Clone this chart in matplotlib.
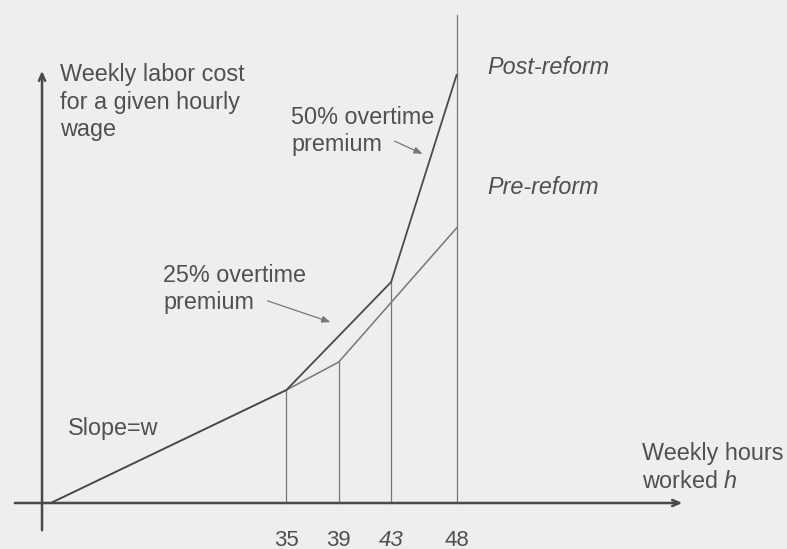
"""
周工时与劳动成本示意图（加班溢价改革前后）
"""

import numpy as np
import matplotlib
matplotlib.use("Agg")
import matplotlib.pyplot as plt

plt.rcParams["font.family"] = ["Liberation Sans", "DejaVu Sans"]
plt.rcParams["mathtext.fontset"] = "custom"
plt.rcParams["mathtext.it"] = "Liberation Sans:italic"
plt.rcParams["mathtext.rm"] = "Liberation Sans"

# ── 数据（示意图，成本单位任意）──────────────────────────────────────────
hours_pre = [17, 35, 39, 48]
cost_pre = [0, 113, 141, 275]
hours_post = [17, 35, 43, 48]
cost_post = [0, 113, 221, 428]
tick_hours = [35, 39, 43, 48]
tick_labels = ["35", "39", "43", "48"]
top_48 = 488

LINE = "#4a4a4a"
GUIDE = "#777777"
TEXT = "#505050"
FS = 16.8
LS = 1.25

fig = plt.figure(figsize=(7.87, 5.49), dpi=100)
fig.patch.set_facecolor("#eeeeec")
ax = fig.add_axes([0, 0, 1, 1])
ax.set_xlim(13.12, 73.24)
ax.set_ylim(-46, 503)
ax.axis("off")

# 坐标轴（带箭头）
ax.annotate("", xy=(65.45, 0), xytext=(14.04, 0),
            arrowprops=dict(arrowstyle="->,head_length=0.5,head_width=0.22",
                            color=LINE, lw=1.8))
ax.annotate("", xy=(16.33, 435), xytext=(16.33, -30),
            arrowprops=dict(arrowstyle="->,head_length=0.5,head_width=0.22",
                            color=LINE, lw=1.8))

# 竖直参考线：各自停在对应折线的拐点
for h in tick_hours:
    if h == 48:
        top = top_48
    elif h in hours_pre:
        top = cost_pre[hours_pre.index(h)]
    else:
        top = np.interp(h, hours_post, cost_post)
    ax.plot([h, h], [0, top], color=GUIDE, lw=0.9)

# 成本曲线
ax.plot(hours_pre, cost_pre, color=GUIDE, lw=1.1)
ax.plot(hours_post, cost_post, color=LINE, lw=1.3)

# 刻度标签
for h, lab in zip(tick_hours, tick_labels):
    ax.text(h, -37, lab, ha="center", va="center", fontsize=16, color=TEXT,
            style="italic" if lab == "43" else "normal")

# 文字说明
ax.text(17.70, 440, "Weekly labor cost\nfor a given hourly\nwage", ha="left", va="top",
        fontsize=FS, color=TEXT, linespacing=LS)
ax.text(35.35, 397, "50% overtime\npremium", ha="left", va="top",
        fontsize=FS, color=TEXT, linespacing=LS)
ax.text(25.57, 239, "25% overtime\npremium", ha="left", va="top",
        fontsize=FS, color=TEXT, linespacing=LS)
ax.text(50.32, 436, "Post-reform", ha="left", va="center", fontsize=FS,
        color=TEXT, style="italic")
ax.text(50.32, 315, "Pre-reform", ha="left", va="center", fontsize=FS,
        color=TEXT, style="italic")
ax.text(18.31, 75, "Slope=w", ha="left", va="center", fontsize=FS, color=TEXT)
ax.text(62.17, 61, "Weekly hours\nworked $h$", ha="left", va="top",
        fontsize=FS, color=TEXT, linespacing=LS)

# 指示箭头
ax.annotate("", xy=(45.59, 348), xytext=(43.07, 363),
            arrowprops=dict(arrowstyle="-|>,head_length=0.5,head_width=0.2",
                            color=GUIDE, lw=0.9))
ax.annotate("", xy=(38.56, 180), xytext=(33.36, 203),
            arrowprops=dict(arrowstyle="-|>,head_length=0.5,head_width=0.2",
                            color=GUIDE, lw=0.9))

fig.savefig("out.png", dpi=100, facecolor=fig.get_facecolor())
plt.close(fig)
